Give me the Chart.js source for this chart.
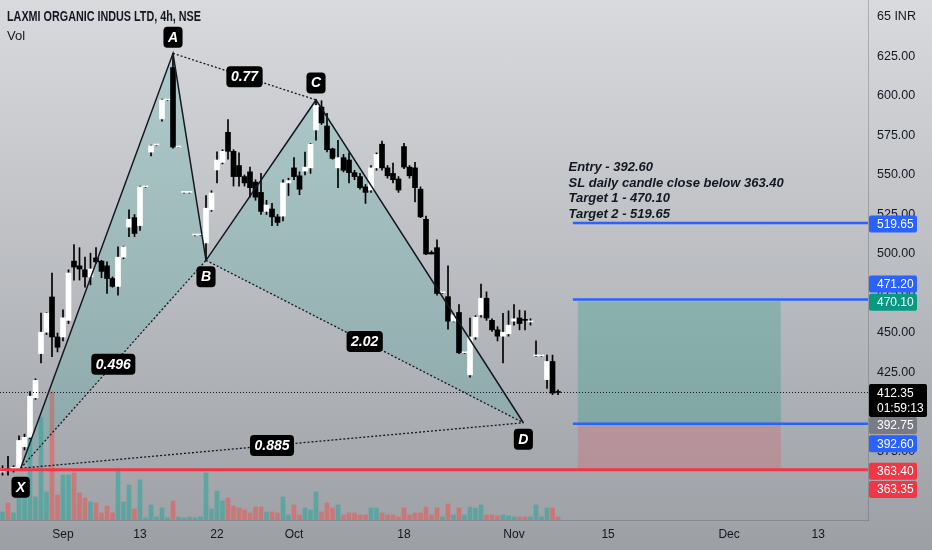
<!DOCTYPE html>
<html>
<head>
<meta charset="utf-8">
<script src="https://cdn.jsdelivr.net/npm/chart.js@4.4.1/dist/chart.umd.min.js"></script>
<style>
  html, body { margin: 0; padding: 0; }
  body { width: 932px; height: 550px; overflow: hidden; background: linear-gradient(#d8dadd, #9c9fa4); }
</style>
</head>
<body>
<canvas id="chart" width="932" height="550"></canvas>
<script>
// --- candles (4h) ---
const opens  = [362,364,363.5,364,378,384,409,437,450.5,472.8, 447.5,447.5,458,495.5,492.5,490,485.5,497.5,495.5,492.5,
                484.5,479.5,498,517,523,518,542.5,564.5,569,585.5, 597.5,618,567.7,539,539,512,512,507,528,553.2,
                558,577,565,556,549,552,545.5,539,527,528.5, 523.5,524,545,554.5,549.5,552.5,554.5,578.5,593,581,
                566.5,554.5,561,559.5,551.5,549,542.5,540.5,554.5,569.5, 554.5,551,547.5,568,555,554.5,541,522,501,504,
                475.5,473,457.5,463,437.5,423.5,447.5,461.5,472,458, 452,448,449.5,457.5,459.5,458.5,457,435.5,435.5,420.5,
                432,412.5];
const highs  = [366,372,366,385,386,413,421,462.6,463,488, 450,464.6,490,506,504,498,500.5,504,496,495,
                485.5,504.5,505,528,525,543,543,569,569.5,598, 598,627,568,539.5,539.5,512.5,512.5,537,540,564.6,
                566,585,566,564,550,555,547,551,534,532, 525,547,548,561,552,564.5,570,597.5,597,589,
                567,572,563,564,553,551,544,556,564,571.5, 556,557.5,549,570,556,558,542.5,524,502,509,
                476,492.5,462,468,438,459.5,461,481,476,459, 454,462.5,464,468,464.5,464,459,445,436,436,
                436,414];
const lows   = [360,360,362,363,376,383,408,431,449,435, 438,445,456,483.5,483.5,479,480.5,494,485,475,
                479,474,497,511,511,515,542,562,568.5,584, 597,567,567.5,538.5,538.5,511.5,511.5,496,527,545,
                557,560,543,543,543,536,534,525,525,518, 518,521,537,547,537.5,550,551,572,582,564.6,
                560,542,552,545,547,541,532,539,553,553, 548,545,539,554,548,533,523,499.5,500,474,
                475,452.5,457,437,437,422,446,460,458,451, 445,431,448,455,452,452,455,435,435,415,
                411,411];
const closes = [364,363,365,382,384,410,420,450.5,462.6,447.5, 441,459.6,488,491.7,490.5,485.5,490.5,495,489,484.5,
                479.5,498,504.5,522,513,542.5,542.5,568.5,569,597.5, 597.5,567.7,567.7,539,539,512,512,529,538.6,559.5,
                565,565,549,549,545,542,536,527,531,523.5, 520,545,546.5,549,541,555,569.5,594,583,566,
                560.5,561,553,551.5,549,542,539,554.5,563,554.5, 549.5,547,540.5,555,549.5,542,523.5,500,500,475,
                475.5,457.5,461.5,437.5,437.5,447.5,460,472,459.5,452, 448,450.5,455,459,456,458,457,435.5,435.5,432,
                412,412.35];
const volumes = [8,17,7,33,23,83,23,103,28,128, 25,45,45,47,27,22,18,17,7,14,
                 7,51,18,35,11,40,2,15,3,12, 2,19,3,2,3,2,3,47,11,29,
                 19,22,14,12,10,7,13,13,8,8, 7,23,5,15,5,12,10,28,8,17,
                 12,15,5,7,7,5,5,12,12,7, 5,5,3,12,5,7,7,13,5,12,
                 3,16,5,12,5,13,12,15,5,5, 4,5,4,3,3,3,3,15,3,12,
                 12,3];

// --- axes ---
const tickIdx    = [11, 25, 39, 53, 73, 93, 110.1, 132.1, 148.3];
const tickLabels = ['Sep', '13', '22', 'Oct', '18', 'Nov', '15', 'Dec', '13'];
const priceTicks = [375, 400, 425, 450, 475, 500, 525, 550, 575, 600, 625, 650];

// --- XABCD pattern ---
const xabcdNames = ['X', 'A', 'B', 'C', 'D'];
const xabcdIdx   = [3.3, 31, 37, 57, 94.7];
const xabcdPrice = [364.4, 627, 496, 597.5, 393.2];
const ratioTexts = ['0.496', '0.77', '2.02', '0.885']; // XB, AC, BD, XD

// --- levels and long position ---
const levelPrices = [519.65, 471.20, 392.60, 363.40];
const levelFrom   = [103.7, 103.7, 103.7, -0.45];
const posFrom = 104.6, posTo = 141.5;
const posTarget = 470.10, posEntry = 392.75, posStop = 363.35;
const noteLines = ['Entry - 392.60', 'SL daily candle close below 363.40', 'Target 1 - 470.10', 'Target 2 - 519.65'];
const noteIdx = 102.9, notePrice = 554.8;

const X_MIN = -0.4545, X_MAX = 157.36;
const FONT = '"Liberation Sans", Arial, sans-serif';
const INK = '#131722';

const idx = opens.map((_, i) => i);
const lastClose = closes[closes.length - 1];
const isUp = i => closes[i] >= opens[i];
const pt = k => ({ x: xabcdIdx[k], y: xabcdPrice[k] });

Chart.defaults.font.family = FONT;
Chart.defaults.color = INK;

function roundBox(ctx, x, y, w, h, r) {
  ctx.beginPath();
  ctx.moveTo(x + r, y);
  ctx.arcTo(x + w, y, x + w, y + h, r);
  ctx.arcTo(x + w, y + h, x, y + h, r);
  ctx.arcTo(x, y + h, x, y, r);
  ctx.arcTo(x, y, x + w, y, r);
  ctx.closePath();
  ctx.fill();
}

function tagText(ctx, txt, cx, cy, font) {
  ctx.font = font;
  const w = ctx.measureText(txt).width + 9;
  ctx.fillStyle = '#000';
  roundBox(ctx, cx - w / 2, cy - 10.5, w, 21, 4);
  ctx.fillStyle = '#fff';
  ctx.textAlign = 'center';
  ctx.textBaseline = 'middle';
  ctx.fillText(txt, cx, cy + 0.5);
}

const drawings = {
  id: 'drawings',
  beforeDatasetsDraw(chart) {
    const { ctx, scales: { x, y } } = chart;
    const l = x.getPixelForValue(posFrom), r = x.getPixelForValue(posTo);
    const yT = y.getPixelForValue(posTarget), yE = y.getPixelForValue(posEntry), yS = y.getPixelForValue(posStop);
    ctx.save();
    ctx.fillStyle = 'rgba(8,153,129,0.25)';
    ctx.fillRect(l, yT, r - l, yE - yT);
    ctx.fillStyle = 'rgba(242,54,69,0.2)';
    ctx.fillRect(l, yE, r - l, yS - yE);
    ctx.restore();
  },
  afterDatasetsDraw(chart) {
    const { ctx, scales: { x, y } } = chart;
    const P = k => [x.getPixelForValue(xabcdIdx[k]), y.getPixelForValue(xabcdPrice[k])];
    ctx.save();
    // ratio tags on the dotted legs
    [[0, 2], [1, 3], [2, 4], [0, 4]].forEach(([a, b], n) => {
      const pa = P(a), pb = P(b);
      tagText(ctx, ratioTexts[n], (pa[0] + pb[0]) / 2, (pa[1] + pb[1]) / 2, 'italic bold 14px ' + FONT);
    });
    // point names
    const offs = [19, -16, 16.5, -17, 16.5];
    xabcdNames.forEach((nm, k) => {
      const p = P(k);
      tagText(ctx, nm, p[0], p[1] + offs[k], 'italic bold 14px ' + FONT);
    });
    // notes
    ctx.fillStyle = INK;
    ctx.font = 'italic bold 13px ' + FONT;
    ctx.textAlign = 'left';
    ctx.textBaseline = 'middle';
    const nx = x.getPixelForValue(noteIdx), ny = y.getPixelForValue(notePrice);
    noteLines.forEach((t, n) => ctx.fillText(t, nx, ny + n * 15.6));
    ctx.restore();
  },
  afterDraw(chart) {
    const { ctx, chartArea, scales: { y } } = chart;
    const left = chartArea.right + 1;
    ctx.save();
    ctx.font = '12px ' + FONT;
    ctx.textAlign = 'left';
    ctx.textBaseline = 'middle';
    const tags = [
      { p: levelPrices[0], bg: '#2962ff', dy: 1 },
      { p: levelPrices[1], bg: '#2962ff', dy: -15.5 },
      { p: posTarget, bg: '#089981', dy: 1 },
      { p: posEntry, bg: '#787b86', dy: 2 },
      { p: levelPrices[2], bg: '#2962ff', dy: 20 },
      { p: levelPrices[3], bg: '#f23645', dy: 1.5 },
      { p: posStop, bg: '#f23645', dy: 19.5 }
    ];
    tags.forEach(t => {
      const cy = y.getPixelForValue(t.p) + t.dy;
      ctx.fillStyle = t.bg;
      roundBox(ctx, left, cy - 8.5, 48, 17, 2);
      ctx.fillStyle = '#fff';
      ctx.fillText(t.p.toFixed(2), left + 8, cy + 0.5);
    });
    // last price + countdown
    const ly = y.getPixelForValue(lastClose);
    ctx.fillStyle = '#000';
    roundBox(ctx, left, ly - 8.5, 58, 33, 2);
    ctx.fillStyle = '#fff';
    ctx.fillText(lastClose.toFixed(2), left + 8, ly + 1);
    ctx.fillText('01:59:13', left + 8, ly + 16);
    // legend text (condensed like the original)
    ctx.fillStyle = INK;
    ctx.font = 'bold 14px ' + FONT;
    const title = 'LAXMI ORGANIC INDUS LTD, 4h, NSE';
    const k = 194 / ctx.measureText(title).width;
    ctx.save();
    ctx.translate(7, 17);
    ctx.scale(k, 1);
    ctx.fillText(title, 0, 0);
    ctx.restore();
    ctx.font = '13px ' + FONT;
    ctx.fillText('Vol', 7, 36);
    ctx.restore();
  }
};

const lineDefaults = { type: 'line', pointRadius: 0, tension: 0, fill: false, borderColor: INK };

const datasets = [
  { type: 'bar', yAxisID: 'yv', grouped: false, order: 10, barThickness: 4,
    data: idx.map(i => ({ x: i, y: volumes[i] })),
    backgroundColor: c => isUp(c.dataIndex) ? 'rgba(38,166,154,0.55)' : 'rgba(239,83,80,0.55)' },
  { ...lineDefaults, order: 9, borderWidth: 0, fill: 'shape', backgroundColor: 'rgba(38,166,154,0.2)',
    data: [pt(0), pt(1), pt(2), pt(0)] },
  { ...lineDefaults, order: 9, borderWidth: 0, fill: 'shape', backgroundColor: 'rgba(38,166,154,0.2)',
    data: [pt(2), pt(3), pt(4), pt(2)] },
  { type: 'bar', grouped: false, order: 6, barThickness: 1, backgroundColor: '#000',
    data: idx.map(i => ({ x: i, y: [lows[i], highs[i]] })) },
  { type: 'bar', grouped: false, order: 5, barThickness: 5, minBarLength: 1,
    data: idx.map(i => ({ x: i, y: [Math.min(opens[i], closes[i]), Math.max(opens[i], closes[i])] })),
    backgroundColor: c => isUp(c.dataIndex) ? '#ffffff' : '#000000' },
  { ...lineDefaults, order: 4, borderWidth: 1.5, data: [pt(0), pt(1), pt(2), pt(3), pt(4)] },
  ...[[0, 2], [1, 3], [2, 4], [0, 4]].map(([a, b]) =>
    ({ ...lineDefaults, order: 4, borderWidth: 1.3, borderDash: [2, 2], data: [pt(a), pt(b)] })),
  { ...lineDefaults, order: 3, borderWidth: 1, borderDash: [1, 2],
    data: [{ x: X_MIN, y: lastClose }, { x: X_MAX, y: lastClose }] },
  ...levelPrices.map((p, k) => ({ ...lineDefaults, order: 2, borderWidth: k === 3 ? 3 : 2.5,
    borderColor: k === 3 ? '#f23645' : '#2962ff',
    data: [{ x: levelFrom[k], y: p }, { x: X_MAX, y: p }] }))
];

new Chart(document.getElementById('chart'), {
  type: 'bar',
  data: { datasets },
  plugins: [drawings],
  options: {
    responsive: false,
    animation: false,
    devicePixelRatio: 1,
    layout: { padding: 0 },
    plugins: { legend: { display: false }, tooltip: { enabled: false } },
    scales: {
      x: {
        type: 'linear', min: X_MIN, max: X_MAX, offset: false,
        grid: { display: false, drawTicks: false, offset: false },
        border: { color: 'rgba(90,94,104,0.35)' },
        afterBuildTicks: s => { s.ticks = tickIdx.map(v => ({ value: v })); },
        afterFit: s => { s.height = 30; s.paddingLeft = 0; s.paddingRight = 0; },
        ticks: { autoSkip: false, maxRotation: 0, padding: 7, font: { size: 12 }, color: INK,
          callback: v => tickLabels[tickIdx.indexOf(v)] }
      },
      y: {
        position: 'right', min: 331.65, max: 660.76,
        grid: { display: false, drawTicks: false },
        border: { color: 'rgba(90,94,104,0.35)' },
        afterBuildTicks: s => { s.ticks = priceTicks.map(v => ({ value: v })); },
        afterFit: s => { s.width = 64; s.paddingTop = 0; s.paddingBottom = 0; },
        ticks: { padding: 9, font: { size: 12.5 }, color: INK,
          callback: v => v === 650 ? '65 INR' : v.toFixed(2) }
      },
      yv: { display: false, min: 0, max: 520 }
    }
  }
});
</script>
</body>
</html>
